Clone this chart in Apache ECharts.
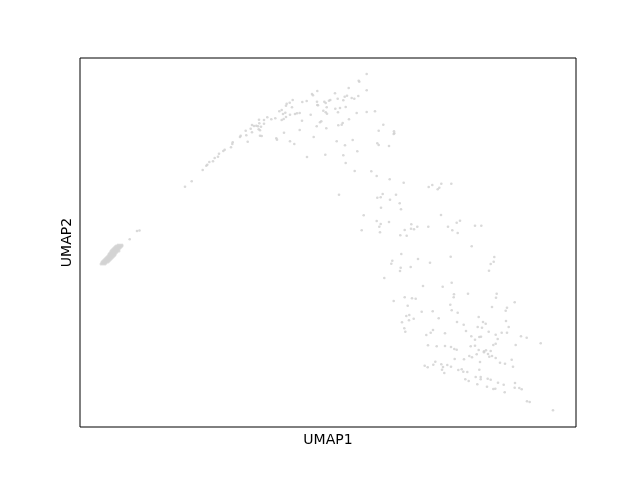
<!DOCTYPE html>
<html>
<head>
    <meta charset="utf-8">
    <title>UMAP</title>
    <script src="https://cdn.jsdelivr.net/npm/echarts@6/dist/echarts.min.js"></script>
    <style>
        html, body { margin: 0; padding: 0; background: #fff; }
    </style>
</head>
<body>
<div id="main" style="width: 640px;height:480px;"></div>
<script type="text/javascript">
    // embedding coordinates (UMAP1, UMAP2)
    var spreadCells = [
        [286.7,353],[278.7,346.3],[279.3,345.3],[286.7,336.7],[268.7,339],[237.3,336],[232,333],[233,331.7],
        [255,333.7],[267,331.3],[264.7,330.3],[257.7,328.3],[271.7,329],[274.3,328.3],[278.3,331],[263.3,326.7],
        [250.3,327],[249,326.3],[244.3,325.3],[245.7,324],[237,325.3],[237.3,322],[226.7,326],[222.3,325],
        [212.7,327],[209.7,324.3],[206.7,323.3],[206,321.3],[212,319.7],[201.7,317],[199.3,315.7],[205.3,314.3],
        [203,313],[210,312.3],[206,310],[203.7,308],[201.7,307],[217,313.7],[219.7,314],[215,313],
        [230.7,312.3],[222,306.3],[238,321.7],[246.7,319.7],[243.3,316.3],[245.7,314.7],[247,313.3],[255.3,318.3],
        [260,319],[265.7,320],[258,314.7],[276.7,314],[286.7,315],[295,315.7],[269,307.7],[262.7,304],
        [261.7,302.3],[258.3,301.7],[241.3,305.7],[240,304.7],[236.7,300.7],[246.3,298.7],[219.7,297],[204,294.3],
        [195.3,308.7],[191.3,307.7],[187.3,309.7],[184,307],[179,307.3],[184,303.3],[179.3,303.7],[172,302],
        [174,301],[176.3,301.3],[178,300.7],[181,300.3],[170.7,298.3],[178.7,297.7],[180,296.7],[165.7,296.3],
        [172,294.7],[180,291.3],[181.7,291],[160.7,291.3],[160,290],[166.3,291.7],[167.7,285.3],[196.3,288.7],
        [197,287.3],[210,285.7],[214.3,283],[233.7,290],[256.7,285.7],[272.7,287],[265,281.7],[152.7,284.7],
        [152.3,283],[151,279.7],[144.7,277.3],[143.3,276],[139,273.3],[138,270.3],[134.7,269],[133,265.7],
        [129.3,265],[127.3,262.3],[126.3,261.3],[122.7,257],[111.7,245.7],[105,240.3],[227,270],[245.3,272.3],
        [263.3,271.7],[265.7,264],[277.3,275.7],[274.7,256],[298.7,296.3],[303.3,302.3],[314,295.7],[314.3,293.7],
        [313.7,293],[297.3,283.7],[298.7,282],[309,281],[291.3,255.7],[296.7,251],[309.7,247.7],[323.7,244.3],
        [348.7,240],[352.3,242],[357.7,237.7],[359.3,239.3],[361.3,243.3],[371.3,243.3],[259,232.3],[302.7,233],
        [297.3,229.3],[300.7,229.7],[310,227.3],[316,232.3],[319.7,223.7],[321,217.7],[301,219.3],[283.7,211.7],
        [296.7,206],[300.7,203],[299.3,200.3],[309,205],[281.7,196.7],[300,194.7],[331.3,202.7],[331,198.3],
        [334,197.7],[337.3,200.3],[324.7,197],[320.3,191.7],[326.7,191.3],[348.3,200.3],[361,212],[368,200.3],
        [372.3,196.7],[377.7,194],[376.7,204.3],[380,206.3],[395,201.3],[401.3,201.3],[391.7,180.7],[321.3,173],
        [312.3,166.3],[311.3,163.3],[338,168],[350,164.3],[370.7,170.3],[320.7,159.3],[320,156],[330.7,160],
        [304.3,149],[343,141],[362.7,140.3],[371.7,144.3],[414.3,170],[413.7,165.3],[410.7,163],[409,156.3],
        [374,132.7],[373.7,129.7],[388,133.3],[416.7,133.3],[416,129.3],[324.7,129.7],[332,128.7],[335.7,128.3],
        [313.7,126],[327.7,121.3],[434.7,124.7],[370.3,122.3],[371.7,116.7],[377.7,114.3],[352.7,115.7],[341.7,115.3],
        [412,120],[427,119.3],[425.7,116.3],[326.3,111],[329.3,112],[333.7,108.3],[329,106.7],[322,104.7],
        [358.7,108.7],[377,105],[398.7,110],[403,105],[405.7,103.3],[426,106],[383.7,102.3],[324.3,98.7],
        [325.3,95.3],[397.7,100],[402,99.3],[428.7,100],[386,96],[408.7,95.3],[353,97],[350.7,94.3],
        [346.3,92],[365,93.7],[391.3,90.7],[399.3,90],[401,90.3],[415.7,92.3],[421.7,94.3],[427,94.3],
        [417.7,88],[441,90.7],[446.7,89.3],[395,87.3],[348,81.7],[356.7,80.7],[365,81],[371,80],
        [374.3,78],[376.7,77.3],[390.7,80.7],[395,81.3],[415.7,83.3],[413.3,82],[435.7,82],[460.7,83.7],
        [398.7,77],[406,76.7],[404,75.7],[396.7,72.7],[404,74.7],[389.3,71],[392,69.7],[410.7,76],
        [408,73],[384,67.7],[374.7,68],[400,65],[409.3,70.3],[412,71],[415.7,69],[420,64.3],
        [425,63.3],[431.7,67.3],[433,60.3],[344.7,61.3],[347.7,59.7],[353.3,62.3],[355.3,65.3],[361.3,62.7],
        [363,60],[362,57.3],[364.3,54],[367.3,62],[371,60.3],[378.3,57],[381.7,57.7],[383.3,55.3],
        [387.3,55],[399.3,57.3],[385.3,47.7],[388.7,46],[395.7,50],[400.7,50],[400.7,47.7],[407.7,48.3],
        [410.7,47.3],[397.3,42.7],[418,44.3],[423.7,42.3],[407,40.3],[415.3,38.3],[413.3,38],[424.7,34.7],
        [435,44],[434.7,39.3],[439.3,39],[441.7,37.7],[447,25.7],[449.7,25],[473,16.7],
        [57,196],[59.5,196.5],[49.7,187.7]
    ];

    // tight cluster on the left
    var denseCells = [
        [21,163],[23,163],[25,163],[22,164],[24,164],[26,164],
        [22,165],[24,165],[26,165],[28,165],[23,166],[25,166],[27,166],[29,166],
        [24,167],[26,167],[28,167],[30,167],[25,168],[27,168],[29,168],[31,168],
        [26,169],[28,169],[30,169],[32,169],[27,170],[29,170],[31,170],[33,170],
        [28,171],[30,171],[32,171],[34,171],[29,172],[31,172],[33,172],[35,172],
        [29,173],[31,173],[33,173],[35,173],[30,174],[32,174],[34,174],[36,174],
        [31,175],[33,175],[35,175],[37,175],[31,176],[33,176],[35,176],[37,176],[39,176],
        [32,177],[34,177],[36,177],[38,177],[33,178],[35,178],[37,178],[39,178],
        [34,179],[36,179],[38,179],[40,179],[35,180],[37,180],[39,180],[41,180],
        [36,181],[38,181],[40,181],[42,181],[38,182],[40,182],[42,182]
    ];

    var axisNames = ['UMAP1', 'UMAP2'];

    var myChart = echarts.init(document.getElementById('main'));

    var option = {
        backgroundColor: '#ffffff',
        animation: false,
        grid: {
            left: 80,
            top: 58,
            right: 64,
            bottom: 53,
            show: true,
            borderColor: '#000000',
            borderWidth: 1,
            backgroundColor: '#ffffff'
        },
        xAxis: {
            type: 'value',
            min: 0,
            max: 496,
            name: axisNames[0],
            nameLocation: 'middle',
            nameGap: 6,
            nameTextStyle: { fontFamily: 'DejaVu Sans', fontSize: 14, color: '#000', verticalAlign: 'top' },
            axisLine: { show: false },
            axisTick: { show: false },
            axisLabel: { show: false },
            splitLine: { show: false }
        },
        yAxis: {
            type: 'value',
            min: 0,
            max: 369,
            name: axisNames[1],
            nameLocation: 'middle',
            nameGap: 6,
            nameTextStyle: { fontFamily: 'DejaVu Sans', fontSize: 14, color: '#000' },
            axisLine: { show: false },
            axisTick: { show: false },
            axisLabel: { show: false },
            splitLine: { show: false }
        },
        series: [{
            type: 'scatter',
            data: denseCells,
            symbolSize: 3,
            itemStyle: { color: '#d3d3d3' }
        }, {
            type: 'scatter',
            data: spreadCells,
            symbolSize: 2.6,
            itemStyle: { color: '#d0d0d0' }
        }]
    };

    myChart.setOption(option);
</script>
</body>
</html>
